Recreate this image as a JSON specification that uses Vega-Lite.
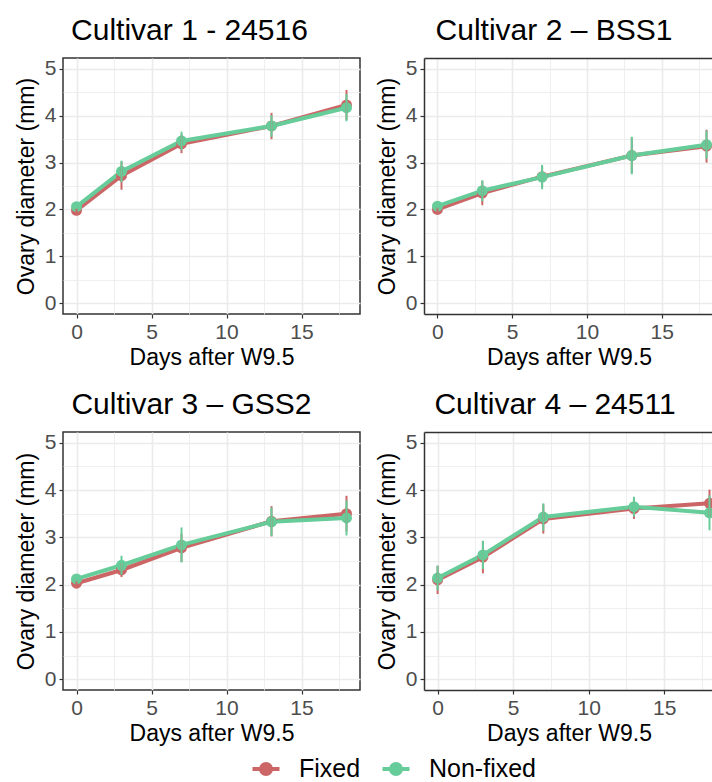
{
  "$schema": "https://vega.github.io/schema/vega-lite/v6.json",
  "padding": {"left": 14, "top": 15, "right": 0, "bottom": 0},
  "background": "white",
  "datasets": {
    "d": [
      {"cultivar": 1, "treatment": "Fixed", "day": 0, "mean": 1.98, "lo": 1.93, "hi": 2.03},
      {"cultivar": 1, "treatment": "Fixed", "day": 3, "mean": 2.72, "lo": 2.42, "hi": 3.02},
      {"cultivar": 1, "treatment": "Fixed", "day": 7, "mean": 3.40, "lo": 3.20, "hi": 3.60},
      {"cultivar": 1, "treatment": "Fixed", "day": 13, "mean": 3.78, "lo": 3.50, "hi": 4.06},
      {"cultivar": 1, "treatment": "Fixed", "day": 18, "mean": 4.23, "lo": 3.91, "hi": 4.55},
      {"cultivar": 1, "treatment": "Non-fixed", "day": 0, "mean": 2.06, "lo": 2.01, "hi": 2.11},
      {"cultivar": 1, "treatment": "Non-fixed", "day": 3, "mean": 2.81, "lo": 2.58, "hi": 3.04},
      {"cultivar": 1, "treatment": "Non-fixed", "day": 7, "mean": 3.46, "lo": 3.26, "hi": 3.66},
      {"cultivar": 1, "treatment": "Non-fixed", "day": 13, "mean": 3.78, "lo": 3.55, "hi": 4.01},
      {"cultivar": 1, "treatment": "Non-fixed", "day": 18, "mean": 4.17, "lo": 3.88, "hi": 4.46},
      {"cultivar": 2, "treatment": "Fixed", "day": 0, "mean": 2.00, "lo": 1.95, "hi": 2.05},
      {"cultivar": 2, "treatment": "Fixed", "day": 3, "mean": 2.35, "lo": 2.09, "hi": 2.61},
      {"cultivar": 2, "treatment": "Fixed", "day": 7, "mean": 2.70, "lo": 2.48, "hi": 2.92},
      {"cultivar": 2, "treatment": "Fixed", "day": 13, "mean": 3.15, "lo": 2.77, "hi": 3.53},
      {"cultivar": 2, "treatment": "Fixed", "day": 18, "mean": 3.35, "lo": 3.00, "hi": 3.70},
      {"cultivar": 2, "treatment": "Non-fixed", "day": 0, "mean": 2.07, "lo": 2.02, "hi": 2.12},
      {"cultivar": 2, "treatment": "Non-fixed", "day": 3, "mean": 2.40, "lo": 2.18, "hi": 2.62},
      {"cultivar": 2, "treatment": "Non-fixed", "day": 7, "mean": 2.69, "lo": 2.43, "hi": 2.95},
      {"cultivar": 2, "treatment": "Non-fixed", "day": 13, "mean": 3.15, "lo": 2.75, "hi": 3.55},
      {"cultivar": 2, "treatment": "Non-fixed", "day": 18, "mean": 3.38, "lo": 3.08, "hi": 3.68},
      {"cultivar": 3, "treatment": "Fixed", "day": 0, "mean": 2.03, "lo": 1.95, "hi": 2.11},
      {"cultivar": 3, "treatment": "Fixed", "day": 3, "mean": 2.31, "lo": 2.16, "hi": 2.46},
      {"cultivar": 3, "treatment": "Fixed", "day": 7, "mean": 2.78, "lo": 2.48, "hi": 3.08},
      {"cultivar": 3, "treatment": "Fixed", "day": 13, "mean": 3.34, "lo": 3.02, "hi": 3.66},
      {"cultivar": 3, "treatment": "Fixed", "day": 18, "mean": 3.50, "lo": 3.12, "hi": 3.88},
      {"cultivar": 3, "treatment": "Non-fixed", "day": 0, "mean": 2.12, "lo": 2.06, "hi": 2.18},
      {"cultivar": 3, "treatment": "Non-fixed", "day": 3, "mean": 2.41, "lo": 2.21, "hi": 2.61},
      {"cultivar": 3, "treatment": "Non-fixed", "day": 7, "mean": 2.84, "lo": 2.47, "hi": 3.21},
      {"cultivar": 3, "treatment": "Non-fixed", "day": 13, "mean": 3.33, "lo": 3.03, "hi": 3.63},
      {"cultivar": 3, "treatment": "Non-fixed", "day": 18, "mean": 3.41, "lo": 3.04, "hi": 3.78},
      {"cultivar": 4, "treatment": "Fixed", "day": 0, "mean": 2.10, "lo": 1.80, "hi": 2.40},
      {"cultivar": 4, "treatment": "Fixed", "day": 3, "mean": 2.58, "lo": 2.24, "hi": 2.92},
      {"cultivar": 4, "treatment": "Fixed", "day": 7, "mean": 3.39, "lo": 3.08, "hi": 3.70},
      {"cultivar": 4, "treatment": "Fixed", "day": 13, "mean": 3.61, "lo": 3.39, "hi": 3.83},
      {"cultivar": 4, "treatment": "Fixed", "day": 18, "mean": 3.72, "lo": 3.43, "hi": 4.01},
      {"cultivar": 4, "treatment": "Non-fixed", "day": 0, "mean": 2.14, "lo": 1.88, "hi": 2.40},
      {"cultivar": 4, "treatment": "Non-fixed", "day": 3, "mean": 2.63, "lo": 2.33, "hi": 2.93},
      {"cultivar": 4, "treatment": "Non-fixed", "day": 7, "mean": 3.43, "lo": 3.14, "hi": 3.72},
      {"cultivar": 4, "treatment": "Non-fixed", "day": 13, "mean": 3.65, "lo": 3.44, "hi": 3.86},
      {"cultivar": 4, "treatment": "Non-fixed", "day": 18, "mean": 3.52, "lo": 3.15, "hi": 3.89}
    ]
  },
  "data": {"name": "d"},
  "vconcat": [
    {
      "hconcat": [
        {
          "width": 297, "height": 256,
          "title": {"text": "Cultivar 1 - 24516", "dx": -22},
          "transform": [{"filter": "datum.cultivar == 1"}],
          "layer": [
            {
              "encoding": {
                "x": {"field": "day", "type": "quantitative", "title": "Days after W9.5", "scale": {"domain": [-0.9, 18.9], "nice": false, "zero": false}, "axis": {"values": [0, 5, 10, 15]}},
                "color": {"field": "treatment", "type": "nominal", "scale": {"domain": ["Fixed", "Non-fixed"], "range": ["#CC6666", "#66CC99"]}, "legend": {"title": " ", "titleOrient": "left", "titleFontSize": 1, "titlePadding": 58}}
              },
              "layer": [
                {"mark": {"type": "line", "strokeWidth": 4, "clip": true}, "encoding": {"y": {"field": "mean", "type": "quantitative", "title": "Ovary diameter (mm)", "scale": {"domain": [-0.23, 5.23], "nice": false, "zero": false}, "axis": {"values": [0, 1, 2, 3, 4, 5]}}}},
                {"mark": {"type": "point", "filled": true, "opacity": 1, "size": 120, "clip": true}, "encoding": {"y": {"field": "mean", "type": "quantitative", "title": "Ovary diameter (mm)", "axis": {"values": [0, 1, 2, 3, 4, 5]}}}},
                {"mark": {"type": "rule", "strokeWidth": 2, "clip": true}, "encoding": {"y": {"field": "lo", "type": "quantitative", "title": "Ovary diameter (mm)", "axis": {"values": [0, 1, 2, 3, 4, 5]}}, "y2": {"field": "hi"}}}
              ]
            },
            {
              "mark": {"type": "point", "opacity": 0},
              "encoding": {
                "x": {"field": "day", "type": "quantitative", "axis": {"orient": "top", "values": [2.5, 7.5, 12.5, 17.5], "grid": true, "gridWidth": 0.8, "domain": false, "labels": false, "ticks": false, "title": null}},
                "y": {"field": "mean", "type": "quantitative", "axis": {"orient": "right", "values": [0.5, 1.5, 2.5, 3.5, 4.5], "grid": true, "gridWidth": 0.8, "domain": false, "labels": false, "ticks": false, "title": null}}
              }
            }
          ],
          "resolve": {"axis": {"x": "independent", "y": "independent"}}
        },
        {
          "width": 290, "height": 256,
          "title": {"text": "Cultivar 2 – BSS1", "dx": -15},
          "view": {"stroke": null},
          "transform": [{"filter": "datum.cultivar == 2"}],
          "layer": [
            {
              "encoding": {
                "x": {"field": "day", "type": "quantitative", "title": "Days after W9.5", "scale": {"domain": [-0.9, 18.5], "nice": false, "zero": false}, "axis": {"domain": true, "values": [0, 5, 10, 15]}},
                "color": {"field": "treatment", "type": "nominal", "legend": {"title": " ", "titleOrient": "left", "titleFontSize": 1, "titlePadding": 58}}
              },
              "layer": [
                {"mark": {"type": "line", "strokeWidth": 4, "clip": true}, "encoding": {"y": {"field": "mean", "type": "quantitative", "title": "Ovary diameter (mm)", "scale": {"domain": [-0.23, 5.23], "nice": false, "zero": false}, "axis": {"domain": true, "values": [0, 1, 2, 3, 4, 5]}}}},
                {"mark": {"type": "point", "filled": true, "opacity": 1, "size": 120, "clip": true}, "encoding": {"y": {"field": "mean", "type": "quantitative", "title": "Ovary diameter (mm)", "axis": {"domain": true, "values": [0, 1, 2, 3, 4, 5]}}}},
                {"mark": {"type": "rule", "strokeWidth": 2, "clip": true}, "encoding": {"y": {"field": "lo", "type": "quantitative", "title": "Ovary diameter (mm)", "axis": {"domain": true, "values": [0, 1, 2, 3, 4, 5]}}, "y2": {"field": "hi"}}}
              ]
            },
            {
              "mark": {"type": "point", "opacity": 0},
              "encoding": {
                "x": {"field": "day", "type": "quantitative", "axis": {"orient": "top", "values": [2.5, 7.5, 12.5, 17.5], "grid": true, "gridWidth": 0.8, "domain": true, "labels": false, "ticks": false, "title": null}},
                "y": {"field": "mean", "type": "quantitative", "axis": {"orient": "right", "values": [0.5, 1.5, 2.5, 3.5, 4.5], "grid": true, "gridWidth": 0.8, "domain": false, "labels": false, "ticks": false, "title": null}}
              }
            }
          ],
          "resolve": {"axis": {"x": "independent", "y": "independent"}}
        }
      ]
    },
    {
      "hconcat": [
        {
          "width": 297, "height": 258,
          "title": {"text": "Cultivar 3 – GSS2", "dx": -20},
          "transform": [{"filter": "datum.cultivar == 3"}],
          "layer": [
            {
              "encoding": {
                "x": {"field": "day", "type": "quantitative", "title": "Days after W9.5", "scale": {"domain": [-0.9, 18.9], "nice": false, "zero": false}, "axis": {"values": [0, 5, 10, 15]}},
                "color": {"field": "treatment", "type": "nominal", "legend": {"title": " ", "titleOrient": "left", "titleFontSize": 1, "titlePadding": 58}}
              },
              "layer": [
                {"mark": {"type": "line", "strokeWidth": 4, "clip": true}, "encoding": {"y": {"field": "mean", "type": "quantitative", "title": "Ovary diameter (mm)", "scale": {"domain": [-0.23, 5.23], "nice": false, "zero": false}, "axis": {"values": [0, 1, 2, 3, 4, 5]}}}},
                {"mark": {"type": "point", "filled": true, "opacity": 1, "size": 120, "clip": true}, "encoding": {"y": {"field": "mean", "type": "quantitative", "title": "Ovary diameter (mm)", "axis": {"values": [0, 1, 2, 3, 4, 5]}}}},
                {"mark": {"type": "rule", "strokeWidth": 2, "clip": true}, "encoding": {"y": {"field": "lo", "type": "quantitative", "title": "Ovary diameter (mm)", "axis": {"values": [0, 1, 2, 3, 4, 5]}}, "y2": {"field": "hi"}}}
              ]
            },
            {
              "mark": {"type": "point", "opacity": 0},
              "encoding": {
                "x": {"field": "day", "type": "quantitative", "axis": {"orient": "top", "values": [2.5, 7.5, 12.5, 17.5], "grid": true, "gridWidth": 0.8, "domain": false, "labels": false, "ticks": false, "title": null}},
                "y": {"field": "mean", "type": "quantitative", "axis": {"orient": "right", "values": [0.5, 1.5, 2.5, 3.5, 4.5], "grid": true, "gridWidth": 0.8, "domain": false, "labels": false, "ticks": false, "title": null}}
              }
            }
          ],
          "resolve": {"axis": {"x": "independent", "y": "independent"}}
        },
        {
          "width": 290, "height": 258,
          "title": {"text": "Cultivar 4 – 24511", "dx": -14},
          "view": {"stroke": null},
          "transform": [{"filter": "datum.cultivar == 4"}],
          "layer": [
            {
              "encoding": {
                "x": {"field": "day", "type": "quantitative", "title": "Days after W9.5", "scale": {"domain": [-0.9, 18.3], "nice": false, "zero": false}, "axis": {"domain": true, "values": [0, 5, 10, 15]}},
                "color": {"field": "treatment", "type": "nominal", "legend": {"title": " ", "titleOrient": "left", "titleFontSize": 1, "titlePadding": 58}}
              },
              "layer": [
                {"mark": {"type": "line", "strokeWidth": 4, "clip": true}, "encoding": {"y": {"field": "mean", "type": "quantitative", "title": "Ovary diameter (mm)", "scale": {"domain": [-0.23, 5.23], "nice": false, "zero": false}, "axis": {"domain": true, "values": [0, 1, 2, 3, 4, 5]}}}},
                {"mark": {"type": "point", "filled": true, "opacity": 1, "size": 120, "clip": true}, "encoding": {"y": {"field": "mean", "type": "quantitative", "title": "Ovary diameter (mm)", "axis": {"domain": true, "values": [0, 1, 2, 3, 4, 5]}}}},
                {"mark": {"type": "rule", "strokeWidth": 2, "clip": true}, "encoding": {"y": {"field": "lo", "type": "quantitative", "title": "Ovary diameter (mm)", "axis": {"domain": true, "values": [0, 1, 2, 3, 4, 5]}}, "y2": {"field": "hi"}}}
              ]
            },
            {
              "mark": {"type": "point", "opacity": 0},
              "encoding": {
                "x": {"field": "day", "type": "quantitative", "axis": {"orient": "top", "values": [2.5, 7.5, 12.5, 17.5], "grid": true, "gridWidth": 0.8, "domain": true, "labels": false, "ticks": false, "title": null}},
                "y": {"field": "mean", "type": "quantitative", "axis": {"orient": "right", "values": [0.5, 1.5, 2.5, 3.5, 4.5], "grid": true, "gridWidth": 0.8, "domain": false, "labels": false, "ticks": false, "title": null}}
              }
            }
          ],
          "resolve": {"axis": {"x": "independent", "y": "independent"}}
        }
      ],
      "spacing": 15
    }
  ],
  "spacing": 19,
  "config": {
    "font": "Liberation Sans",
    "view": {"stroke": "#333333", "strokeWidth": 1.5},
    "concat": {"spacing": 15},
    "title": {"fontSize": 30, "fontWeight": "normal", "color": "black", "anchor": "middle", "offset": 12},
    "axis": {
      "domain": false,
      "domainColor": "#333333",
      "domainWidth": 1.5,
      "labelFontSize": 21,
      "labelColor": "#4D4D4D",
      "labelPadding": 3,
      "labelOverlap": false,
      "labelFlush": false,
      "titleFontSize": 23,
      "titleFontWeight": "normal",
      "titleColor": "black",
      "tickColor": "#333333",
      "tickWidth": 1.2,
      "tickSize": 4,
      "gridColor": "#EBEBEB",
      "gridWidth": 1.6
    },
    "axisX": {"titlePadding": 4},
    "axisY": {"titlePadding": 6},
    "legend": {
      "orient": "bottom",
      "offset": 7,
      "layout": {"bottom": {"anchor": "middle"}},
      "padding": 0,
      "direction": "horizontal",
      "labelFontSize": 25,
      "labelColor": "black",
      "labelExpr": "replace(datum.label, '-', '−')",
      "symbolType": "M-1,0L1,0M0.37,0A0.37,0.37,0,1,1,-0.37,0A0.37,0.37,0,1,1,0.37,0Z",
      "symbolSize": 730,
      "symbolStrokeWidth": 4,
      "symbolOpacity": 1,
      "columnPadding": 13,
      "labelOffset": 17
    }
  }
}
